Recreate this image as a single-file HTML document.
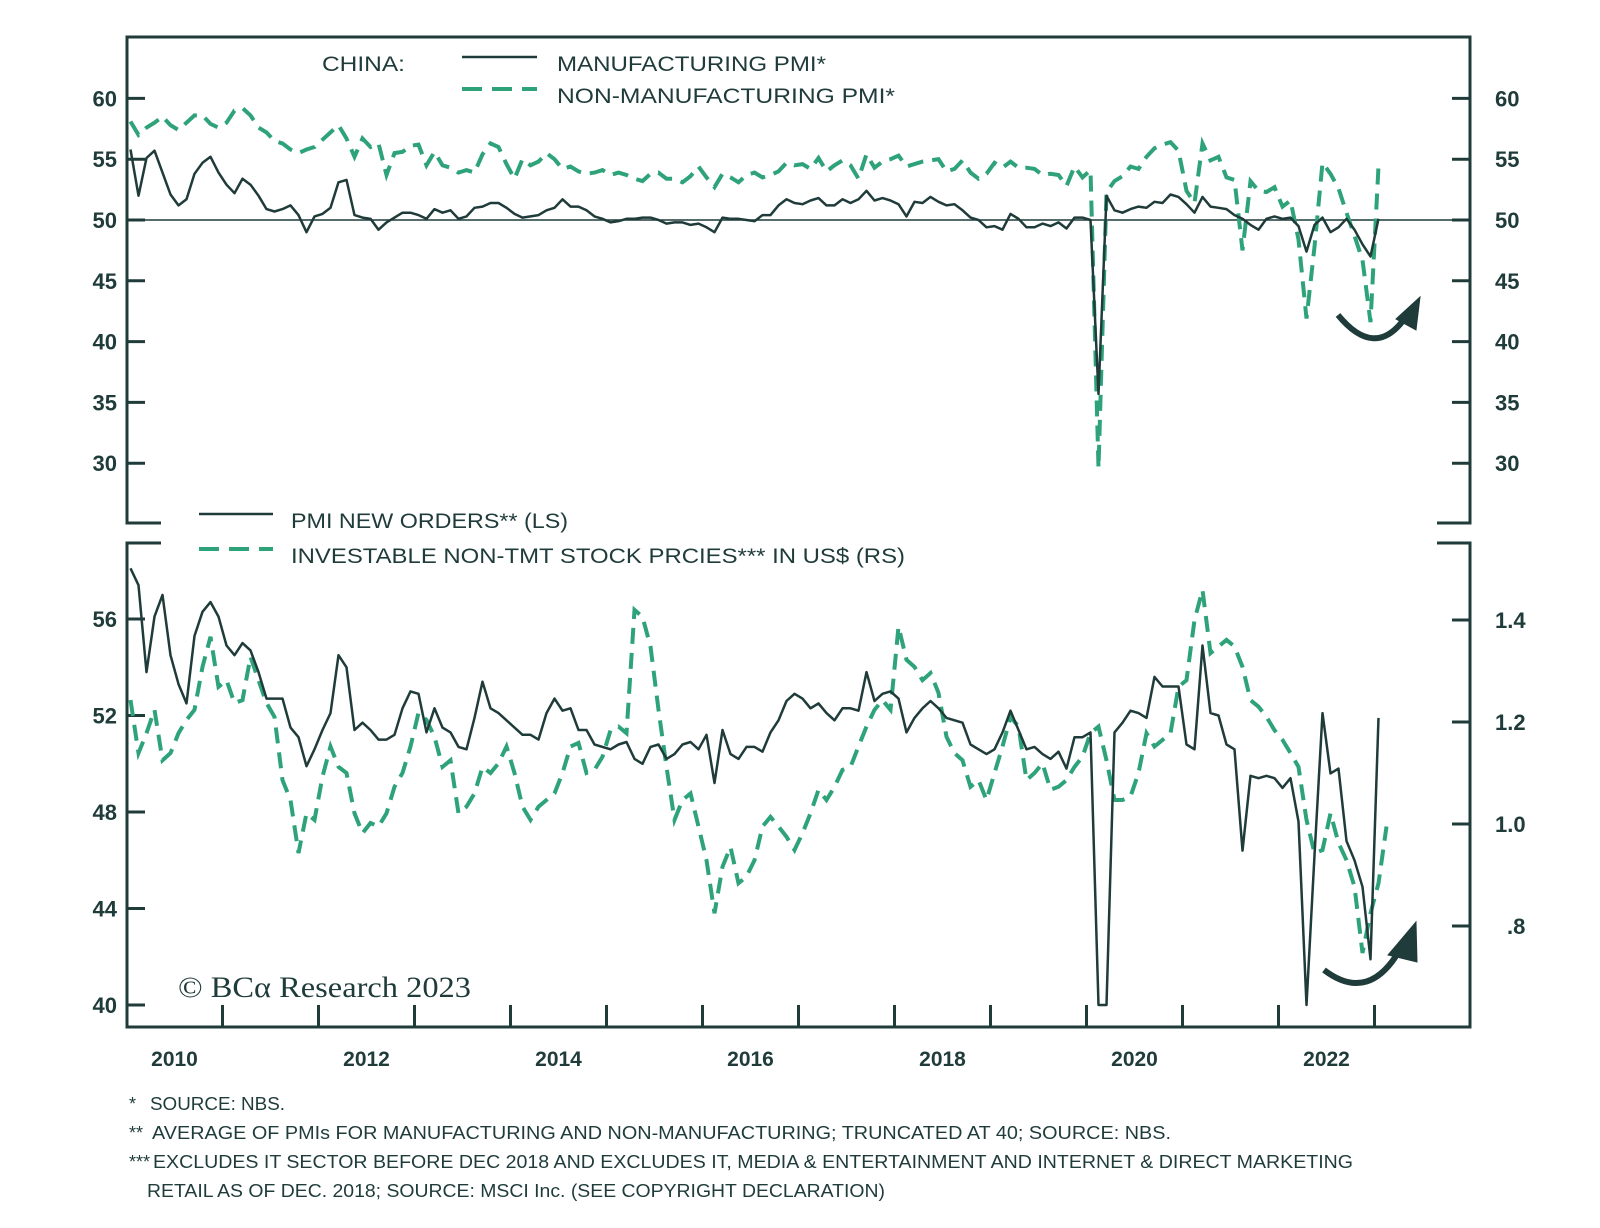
<!DOCTYPE html>
<html><head><meta charset="utf-8"><style>
html,body{margin:0;padding:0;background:#fff;}
svg{display:block;font-family:"Liberation Sans",sans-serif;}
</style></head><body>
<svg id="chart" width="1600" height="1228" viewBox="0 0 1600 1228" xmlns="http://www.w3.org/2000/svg">
<g id="frame" stroke="#1f3b3a" stroke-width="3" fill="none">
  <path d="M161,523 H127 V37 H1470 V523 H1437"/>
  <path d="M161,543 H127 V1027 H1470 V543 H1437"/>
</g>
<g id="topTicks"></g>
<g id="botTicks"></g>
<g id="xTicks"></g>
<g id="series"></g>

<g fill="#1f3b3a" font-size="21">
  <text x="322" y="71" textLength="83" lengthAdjust="spacingAndGlyphs">CHINA:</text>
  <line x1="462" y1="57" x2="537" y2="57" stroke="#1f3b3a" stroke-width="2.5"/>
  <text x="557" y="71" textLength="269" lengthAdjust="spacingAndGlyphs">MANUFACTURING PMI*</text>
  <line x1="462" y1="89" x2="537" y2="89" stroke="#2ea37a" stroke-width="4" stroke-dasharray="20,10"/>
  <text x="557" y="103" textLength="338" lengthAdjust="spacingAndGlyphs">NON-MANUFACTURING PMI*</text>
</g>
<g fill="#1f3b3a" font-size="21">
  <line x1="199" y1="514" x2="273" y2="514" stroke="#1f3b3a" stroke-width="2.5"/>
  <text x="291" y="528" textLength="277" lengthAdjust="spacingAndGlyphs">PMI NEW ORDERS** (LS)</text>
  <line x1="199" y1="549" x2="273" y2="549" stroke="#2ea37a" stroke-width="4" stroke-dasharray="20,10"/>
  <text x="291" y="563" textLength="614" lengthAdjust="spacingAndGlyphs">INVESTABLE NON-TMT STOCK PRCIES*** IN US$ (RS)</text>
</g>
<text x="178" y="997" font-family="'Liberation Serif',serif" font-size="30" fill="#1f3b3a" textLength="293" lengthAdjust="spacingAndGlyphs">© BCα Research 2023</text>

<g fill="#1f3b3a" stroke="#1f3b3a">
  <path d="M1338,315 Q1375,360 1405,318" fill="none" stroke-width="6"/>
  <path d="M1420,297 L1396,319 L1416,330 Z"/>
  <path d="M1324,970 Q1370,1005 1402,946" fill="none" stroke-width="6"/>
  <path d="M1416,922 L1388,955 L1417,962 Z"/>
</g>

<g fill="#1f3b3a" font-size="18">
  <text x="129" y="1110">*</text>
  <text x="150" y="1110" textLength="135" lengthAdjust="spacingAndGlyphs">SOURCE: NBS.</text>
  <text x="129" y="1139">**</text>
  <text x="152" y="1139" textLength="1019" lengthAdjust="spacingAndGlyphs">AVERAGE OF PMIs FOR MANUFACTURING AND NON-MANUFACTURING; TRUNCATED AT 40; SOURCE: NBS.</text>
  <text x="129" y="1168">***</text>
  <text x="153" y="1168" textLength="1200" lengthAdjust="spacingAndGlyphs">EXCLUDES IT SECTOR BEFORE DEC 2018 AND EXCLUDES IT, MEDIA &amp; ENTERTAINMENT AND INTERNET &amp; DIRECT MARKETING</text>
  <text x="147" y="1197" textLength="738" lengthAdjust="spacingAndGlyphs">RETAIL AS OF DEC. 2018; SOURCE: MSCI Inc. (SEE COPYRIGHT DECLARATION)</text>
</g>
</svg>
<script>
// ---- data (monthly from Jan 2010) ----
const topTicks = [30,35,40,45,50,55,60];
const leftBotTicks = [40,44,48,52,56];
const rightBotTicks = [0.8,1.0,1.2,1.4];
const rightBotLabels = [".8","1.0","1.2","1.4"];
const years = [2010,2012,2014,2016,2018,2020,2022];
const mfgPMI = [55.8,52.0,55.1,55.7,53.9,52.1,51.2,51.7,53.8,54.7,55.2,53.9,
52.9,52.2,53.4,52.9,52.0,50.9,50.7,50.9,51.2,50.4,49.0,50.3,
50.5,51.0,53.1,53.3,50.4,50.2,50.1,49.2,49.8,50.2,50.6,50.6,
50.4,50.1,50.9,50.6,50.8,50.1,50.3,51.0,51.1,51.4,51.4,51.0,
50.5,50.2,50.3,50.4,50.8,51.0,51.7,51.1,51.1,50.8,50.3,50.1,
49.8,49.9,50.1,50.1,50.2,50.2,50.0,49.7,49.8,49.8,49.6,49.7,
49.4,49.0,50.2,50.1,50.1,50.0,49.9,50.4,50.4,51.2,51.7,51.4,
51.3,51.6,51.8,51.2,51.2,51.7,51.4,51.7,52.4,51.6,51.8,51.6,
51.3,50.3,51.5,51.4,51.9,51.5,51.2,51.3,50.8,50.2,50.0,49.4,
49.5,49.2,50.5,50.1,49.4,49.4,49.7,49.5,49.8,49.3,50.2,50.2,
50.0,35.7,52.0,50.8,50.6,50.9,51.1,51.0,51.5,51.4,52.1,51.9,
51.3,50.6,51.9,51.1,51.0,50.9,50.4,50.1,49.6,49.2,50.1,50.3,
50.1,50.2,49.5,47.4,49.6,50.2,49.0,49.4,50.1,49.2,48.0,47.0,
50.1];
const nonMfgPMI = [58.1,57.0,57.6,58.0,58.5,57.8,57.4,58.0,58.6,58.6,57.9,57.6,
58.0,59.0,59.2,58.6,57.6,57.2,56.5,56.3,55.8,55.5,55.8,56.0,
56.6,57.2,57.8,56.7,55.2,56.7,56.0,56.3,53.7,55.5,55.6,56.1,
56.2,54.5,55.6,54.5,54.3,53.9,54.1,53.9,55.4,56.3,56.0,54.6,
53.4,55.0,54.5,54.8,55.5,55.0,54.2,54.4,54.0,53.8,53.9,54.1,
53.7,53.9,53.7,53.4,53.2,53.8,53.9,53.4,53.4,53.1,53.6,54.4,
53.5,52.7,53.8,53.5,53.1,53.7,53.9,53.5,53.7,54.0,54.7,54.5,
54.6,54.2,55.1,54.0,54.5,54.9,54.5,53.4,55.4,54.3,54.8,55.0,
55.3,54.4,54.6,54.8,54.9,55.0,54.0,54.2,54.9,53.9,53.4,53.8,
54.7,54.3,54.8,54.3,54.3,54.2,53.7,53.8,53.7,52.8,54.4,53.5,
54.1,29.6,52.3,53.2,53.6,54.4,54.2,55.2,55.9,56.2,56.4,55.7,
52.4,51.4,56.3,54.9,55.2,53.5,53.3,47.5,53.2,52.4,52.3,52.7,
51.1,51.6,48.4,41.9,47.8,54.7,53.8,52.6,50.6,48.7,46.7,41.6,
54.4];
const newOrders = [58.1,57.4,53.8,56.1,57.0,54.5,53.3,52.5,55.3,56.3,56.7,56.1,
54.9,54.5,55.0,54.7,53.8,52.7,52.7,52.7,51.5,51.1,49.9,50.6,
51.4,52.1,54.5,54.0,51.4,51.7,51.4,51.0,51.0,51.2,52.3,53.0,
52.9,51.3,52.3,51.5,51.3,50.7,50.6,51.9,53.4,52.3,52.1,51.8,
51.5,51.2,51.2,51.0,52.1,52.7,52.2,52.3,51.4,51.4,50.8,50.7,
50.6,50.8,50.9,50.2,50.0,50.7,50.8,50.2,50.4,50.8,50.9,50.6,
51.2,49.2,51.4,50.4,50.2,50.7,50.7,50.5,51.3,51.8,52.6,52.9,
52.7,52.3,52.5,52.1,51.8,52.3,52.3,52.2,53.8,52.6,52.9,53.0,
52.7,51.3,51.9,52.3,52.6,52.3,51.9,51.8,51.7,50.8,50.6,50.4,
50.6,51.3,52.2,51.4,50.6,50.7,50.4,50.2,50.5,49.8,51.1,51.1,
51.3,40,40,51.3,51.7,52.2,52.1,51.9,53.6,53.2,53.2,53.2,
50.8,50.6,54.9,52.1,52.0,50.8,50.6,46.4,49.5,49.4,49.5,49.4,
49.0,49.4,47.6,40,46.2,52.1,49.6,49.8,46.8,46.0,44.9,41.9,
51.9];
const stockPrices = [1.243,1.139,1.178,1.224,1.125,1.139,1.178,1.204,1.224,1.308,1.367,1.269,
1.282,1.237,1.243,1.328,1.282,1.237,1.210,1.086,1.047,0.943,1.021,1.008,
1.093,1.152,1.112,1.100,1.021,0.982,1.002,0.995,1.021,1.073,1.100,1.152,
1.218,1.204,1.171,1.112,1.125,1.021,1.034,1.060,1.112,1.100,1.119,1.152,
1.100,1.034,1.008,1.034,1.047,1.060,1.100,1.152,1.159,1.100,1.106,1.132,
1.184,1.191,1.178,1.420,1.406,1.348,1.224,1.112,1.008,1.047,1.060,0.995,
0.929,0.825,0.916,0.955,0.884,0.897,0.929,0.995,1.014,0.995,0.975,0.949,
0.982,1.021,1.067,1.047,1.073,1.106,1.112,1.152,1.191,1.224,1.243,1.224,
1.387,1.322,1.308,1.282,1.296,1.257,1.171,1.139,1.125,1.073,1.086,1.047,
1.100,1.152,1.210,1.191,1.086,1.100,1.119,1.067,1.073,1.086,1.112,1.132,
1.178,1.191,1.125,1.047,1.047,1.054,1.100,1.178,1.152,1.165,1.178,1.269,
1.282,1.400,1.459,1.335,1.348,1.361,1.348,1.308,1.243,1.230,1.210,1.184,
1.165,1.139,1.112,1.008,0.943,0.949,1.021,0.963,0.929,0.877,0.747,0.825,
0.884,0.995];

// ---- axes functions ----
const X0 = 126.5, YEARW = 96;
const xMonth = i => X0 + (i + 0.5) * YEARW / 12;
const xYear = y => X0 + (y - 2010) * YEARW;
const yTop = v => 220 - (v - 50) * 12.16;
const yBotL = v => 619 + (56 - v) * 24.125;
const yBotR = v => 824 - (v - 1.0) * 510;

const NS = "http://www.w3.org/2000/svg";
const DARK = "#1f3b3a", GREEN = "#2ea37a";
function mk(tag, attrs, parent) {
  const el = document.createElementNS(NS, tag);
  for (const k in attrs) el.setAttribute(k, attrs[k]);
  parent.appendChild(el);
  return el;
}
const gTop = document.getElementById('topTicks');
const gBot = document.getElementById('botTicks');
const gX = document.getElementById('xTicks');
const gS = document.getElementById('series');

topTicks.forEach(v => {
  const y = yTop(v);
  const t1 = mk('line', {x1:127, x2:145, y1:y, y2:y, stroke:DARK, 'stroke-width':3}, gTop);
  
  
  const t2 = mk('line', {x1:1452, x2:1470, y1:y, y2:y, stroke:DARK, 'stroke-width':3}, gTop);
  
  
  const l1 = mk('text', {x:117, y:y+8, 'text-anchor':'end', 'font-size':22, 'font-weight':'bold', fill:DARK}, gTop);
  l1.textContent = v;
  
  
  const l2 = mk('text', {x:1495, y:y+8, 'font-size':22, 'font-weight':'bold', fill:DARK}, gTop);
  l2.textContent = v;
  
  
});
const ref = mk('line', {x1:127, x2:1470, y1:yTop(50), y2:yTop(50), stroke:DARK, 'stroke-width':1.5}, gTop);



leftBotTicks.forEach(v => {
  const y = yBotL(v);
  const t = mk('line', {x1:127, x2:145, y1:y, y2:y, stroke:DARK, 'stroke-width':3}, gBot);
  
  
  const l = mk('text', {x:117, y:y+8, 'text-anchor':'end', 'font-size':22, 'font-weight':'bold', fill:DARK}, gBot);
  l.textContent = v;
  
  
});
rightBotTicks.forEach((v, k) => {
  const y = yBotR(v);
  const t = mk('line', {x1:1452, x2:1470, y1:y, y2:y, stroke:DARK, 'stroke-width':3}, gBot);
  
  
  const l = mk('text', {x: rightBotLabels[k].length < 3 ? 1507 : 1495, y:y+8, 'font-size':22, 'font-weight':'bold', fill:DARK}, gBot);
  l.textContent = rightBotLabels[k];
  
  
});
for (let yr = 2011; yr <= 2023; yr++) {
  const x = xYear(yr);
  const t = mk('line', {x1:x, x2:x, y1:1005, y2:1027, stroke:DARK, 'stroke-width':3}, gX);
  
  
}
years.forEach(yr => {
  const l = mk('text', {x:xYear(yr) + 48, y:1066, 'text-anchor':'middle', 'font-size':21, 'font-weight':'bold', fill:DARK}, gX);
  l.textContent = yr;
  
  
});

function pathFrom(arr, yf) {
  return arr.map((v, i) => (i ? 'L' : 'M') + xMonth(i).toFixed(1) + ',' + yf(v).toFixed(1)).join(' ');
}
const pNon = mk('path', {d:pathFrom(nonMfgPMI, yTop), fill:'none', stroke:GREEN, 'stroke-width':4, 'stroke-dasharray':'16,9'}, gS);


const pMfg = mk('path', {d:pathFrom(mfgPMI, yTop), fill:'none', stroke:DARK, 'stroke-width':2.5, 'stroke-linejoin':'round'}, gS);


const pStock = mk('path', {d:pathFrom(stockPrices, yBotR), fill:'none', stroke:GREEN, 'stroke-width':4, 'stroke-dasharray':'16,9'}, gS);


const pNO = mk('path', {d:pathFrom(newOrders, yBotL), fill:'none', stroke:DARK, 'stroke-width':2.5, 'stroke-linejoin':'round'}, gS);


</script>
</body></html>
